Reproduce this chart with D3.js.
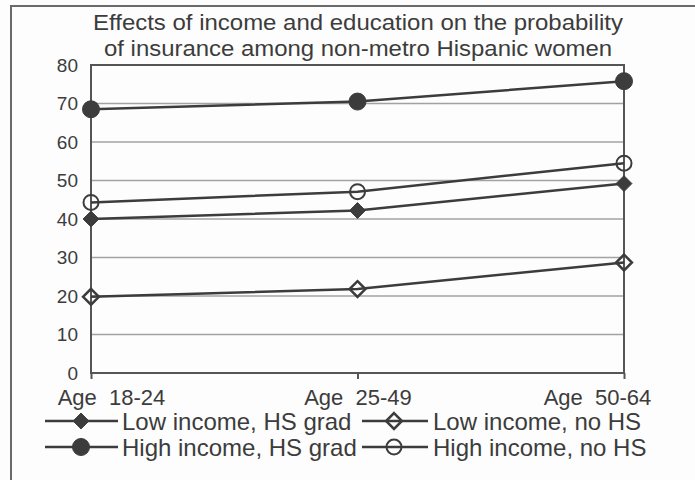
<!DOCTYPE html>
<html>
<head>
<meta charset="utf-8">
<script src="https://cdn.jsdelivr.net/npm/d3@7"></script>
<style>
  html, body { margin: 0; padding: 0; background: #fdfdfd; }
  svg { display: block; font-family: "Liberation Sans", Arial, sans-serif; }
</style>
</head>
<body>
<svg id="chart" width="695" height="480"></svg>
<script>
// Age groups along the x axis
const categories = ["Age  18-24", "Age  25-49", "Age  50-64"];

// Probability of insurance (%) for each group
const lowIncomeHSGrad  = [40, 42.2, 49.2];
const lowIncomeNoHS    = [19.8, 21.8, 28.7];
const highIncomeHSGrad = [68.5, 70.5, 75.8];
const highIncomeNoHS   = [44.3, 47.1, 54.5];

const yTicks = [0, 10, 20, 30, 40, 50, 60, 70, 80];

const titleLines = [
  "Effects of income and education on the probability",
  "of insurance among non-metro Hispanic women"
];

const series = [
  { name: "Low income, HS grad",  values: lowIncomeHSGrad,  marker: "diamond", filled: true },
  { name: "Low income, no HS",    values: lowIncomeNoHS,    marker: "diamond", filled: false },
  { name: "High income, HS grad", values: highIncomeHSGrad, marker: "circle",  filled: true },
  { name: "High income, no HS",   values: highIncomeNoHS,   marker: "circle",  filled: false }
];

const ink = "#3c3c3c";
const gridInk = "#a2a2a2";

const svg = d3.select("#chart");

// Outer frame (runs off the right and bottom edges)
svg.append("path")
  .attr("d", "M11,485 L11,6 L700,6")
  .attr("fill", "none")
  .attr("stroke", "#6a6a6a")
  .attr("stroke-width", 2);

const plot = { left: 91, right: 624, top: 65, bottom: 373 };

const x = d3.scalePoint()
  .domain(categories)
  .range([plot.left, plot.right]);

const y = d3.scaleLinear()
  .domain([0, 80])
  .range([plot.bottom, plot.top]);

// Two-line title, slightly wide-set
const titleWidths = [530, 508];
svg.append("text")
  .attr("text-anchor", "middle")
  .attr("font-size", 22)
  .attr("fill", ink)
  .selectAll("tspan")
  .data(titleLines)
  .join("tspan")
  .attr("x", 358)
  .attr("y", (d, i) => 30 + i * 26)
  .attr("textLength", (d, i) => titleWidths[i])
  .attr("lengthAdjust", "spacingAndGlyphs")
  .text(d => d);

// Horizontal gridlines
svg.append("g")
  .selectAll("line")
  .data(yTicks.filter(t => t > 0 && t < 80))
  .join("line")
  .attr("x1", plot.left)
  .attr("x2", plot.right)
  .attr("y1", d => y(d))
  .attr("y2", d => y(d))
  .attr("stroke", gridInk)
  .attr("stroke-width", 1.5);

// Plot border
svg.append("rect")
  .attr("x", plot.left)
  .attr("y", plot.top)
  .attr("width", plot.right - plot.left)
  .attr("height", plot.bottom - plot.top)
  .attr("fill", "none")
  .attr("stroke", "#555")
  .attr("stroke-width", 2);

// Y axis labels
const yAxis = svg.append("g")
  .attr("transform", `translate(${plot.left},0)`)
  .call(d3.axisLeft(y).tickValues(yTicks).tickSize(0).tickPadding(13));
yAxis.select(".domain").remove();
yAxis.selectAll("text")
  .attr("font-size", 19)
  .attr("font-family", "Liberation Sans, Arial, sans-serif")
  .attr("fill", ink);

// X axis with short ticks below the baseline; end labels pulled inward
const labelShift = [20, 0, -27];
const xAxis = svg.append("g")
  .attr("transform", `translate(0,${plot.bottom})`)
  .call(d3.axisBottom(x).tickSize(6).tickPadding(10));
xAxis.select(".domain").remove();
xAxis.selectAll("line").attr("stroke", "#555").attr("stroke-width", 2);
xAxis.selectAll("text")
  .attr("font-size", 22)
  .attr("font-family", "Liberation Sans, Arial, sans-serif")
  .attr("fill", ink)
  .attr("dx", (d, i) => labelShift[i])
  .style("white-space", "pre");

// Marker drawing
function drawMarker(sel, s) {
  if (s.marker === "diamond") {
    sel.append("path")
      .attr("d", d3.symbol(d3.symbolDiamond2, 160)())
      .attr("fill", s.filled ? ink : "none")
      .attr("stroke", ink)
      .attr("stroke-width", s.filled ? 1 : 2.5);
  } else {
    sel.append("circle")
      .attr("r", s.filled ? 8.5 : 7.5)
      .attr("fill", s.filled ? ink : "none")
      .attr("stroke", ink)
      .attr("stroke-width", s.filled ? 1 : 2);
  }
}

const line = d3.line()
  .x((d, i) => x(categories[i]))
  .y(d => y(d));

const seriesG = svg.append("g");
series.forEach(s => {
  seriesG.append("path")
    .attr("d", line(s.values))
    .attr("fill", "none")
    .attr("stroke", ink)
    .attr("stroke-width", 2.5);
  s.values.forEach((v, i) => {
    const g = seriesG.append("g")
      .attr("transform", `translate(${x(categories[i])},${y(v)})`);
    drawMarker(g, s);
  });
});

// Legend, two rows of two entries
const legendPos = [
  { x: 45, y: 421 }, { x: 362, y: 421 },
  { x: 45, y: 447 }, { x: 362, y: 447 }
];
series.forEach((s, i) => {
  const p = legendPos[i];
  const g = svg.append("g").attr("transform", `translate(${p.x},${p.y})`);
  g.append("line")
    .attr("x1", 0).attr("x2", i % 2 ? 66 : 73)
    .attr("y1", 0).attr("y2", 0)
    .attr("stroke", ink).attr("stroke-width", 2.5);
  drawMarker(g.append("g").attr("transform", `translate(${i % 2 ? 32 : 36},0)`), s);
  g.append("text")
    .attr("x", i % 2 ? 71 : 77)
    .attr("y", 8.5)
    .attr("font-size", 24)
    .attr("fill", ink)
    .text(s.name);
});
</script>
</body>
</html>
